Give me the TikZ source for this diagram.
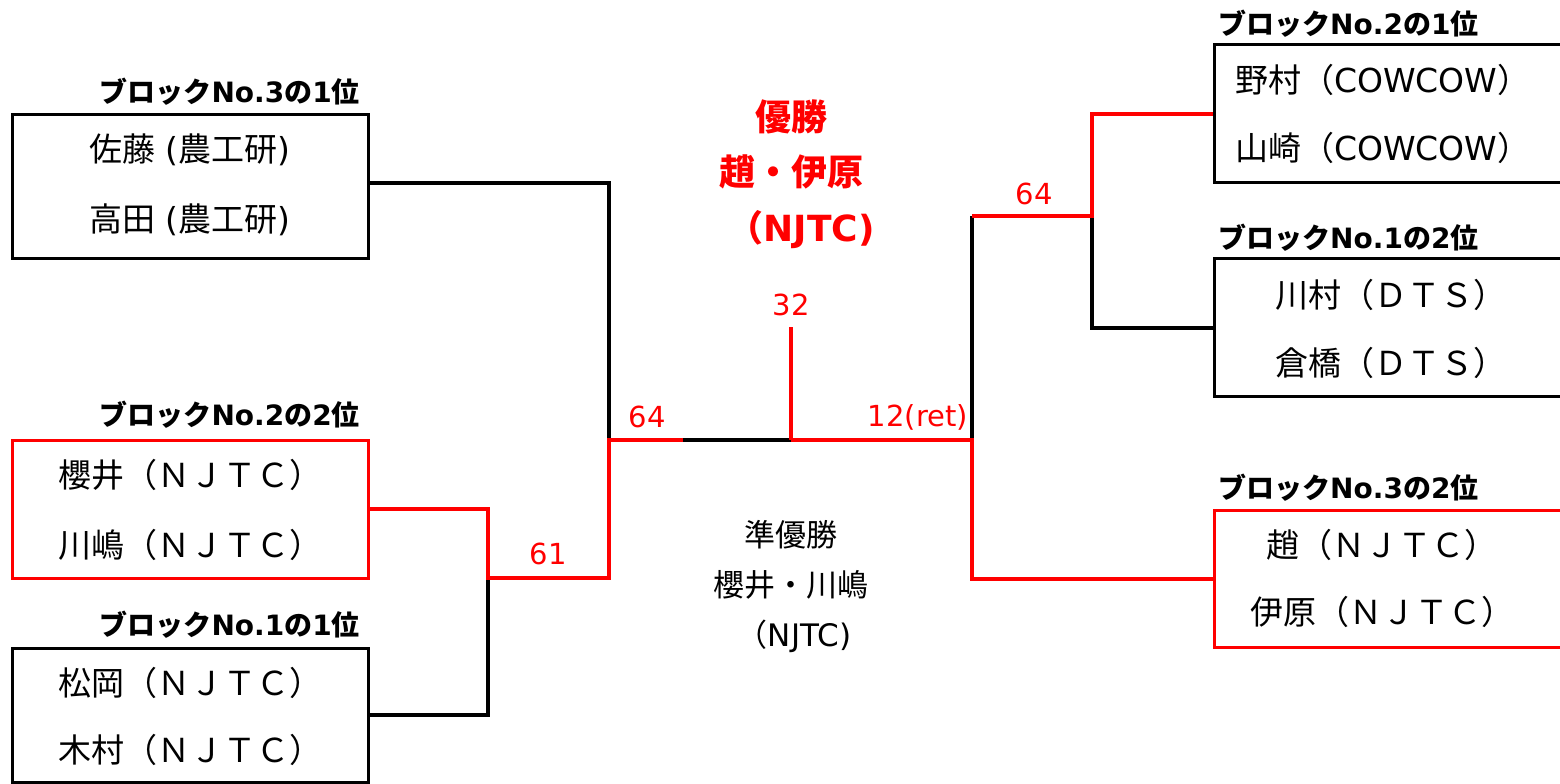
\documentclass[tikz,border=0pt]{standalone}
\usepackage{fontspec}
\setmainfont{Noto Sans CJK JP}
\newfontfamily\numfont{DejaVu Sans}
\newcommand\latn[1]{{\numfont #1}}
\definecolor{rd}{RGB}{255,0,0}
\begin{document}
\begin{tikzpicture}[x=1pt,y=-1pt,
  box/.style={draw=black, line width=3pt, minimum width=356pt, inner sep=0pt},
  rbox/.style={box, draw=rd},
  lab/.style={font=\fontsize{28}{30}\selectfont\bfseries, inner sep=0pt},
  nm/.style={font=\fontsize{33}{40}\selectfont, inner sep=0pt},
  score/.style={font=\numfont\fontsize{29}{34}\selectfont, text=rd, inner sep=0pt},
  win/.style={font=\fontsize{36}{40}\selectfont\bfseries, text=rd, inner sep=0pt},
  ru/.style={font=\fontsize{31}{36}\selectfont, inner sep=0pt},
  bl/.style={line width=4pt, draw=black},
  rl/.style={line width=4pt, draw=rd},
]
\useasboundingbox (0,0) rectangle (1560,784);
% boxes
\node[box, minimum height=144pt] (L1) at (190,186) {};
\node[rbox, minimum height=138pt] (L2) at (190,509) {};
\node[box, minimum height=134pt] (L3) at (190,715) {};
\node[box, minimum width=348pt, minimum height=137pt] (R1) at (1388,113.5) {};
\node[box, minimum width=348pt, minimum height=138pt] (R2) at (1388,327.5) {};
\node[rbox, minimum width=348pt, minimum height=137pt] (R3) at (1388,578.5) {};
% junctions
\coordinate (J1) at (609,440);
\coordinate (K1) at (488,578);
\coordinate (G) at (683,440);
\coordinate (C) at (791,440);
\coordinate (T) at (791,327);
\coordinate (J2) at (972,440);
\coordinate (M) at (972,216);
\coordinate (N) at (1092,216);
% black connectors
\draw[bl] ([yshift=3.5pt]L1.east) -| (J1);
\draw[bl] (L3.east) -| (K1);
\draw[bl] (G) -- (C);
\draw[bl] (J2) -- (M);
\draw[bl] (R2.west) -| (N);
% red connectors
\draw[rl] (L2.east) -| (K1) -| (J1) -- (G);
\draw[rl] (C) -- (T);
\draw[rl] (C) -- (J2) |- (R3.west);
\draw[rl] (M) -- (N) |- (R1.west);
% block labels
\node[lab, anchor=east] (bL1) at (360,92) {ブロック\latn{No.3}の\latn{1}位};
\node[lab, anchor=east] (bL2) at (360,415) {ブロック\latn{No.2}の\latn{2}位};
\node[lab, anchor=east] (bL3) at (360,625) {ブロック\latn{No.1}の\latn{1}位};
\node[lab, anchor=west] (bR1) at (1218,24) {ブロック\latn{No.2}の\latn{1}位};
\node[lab, anchor=west] (bR2) at (1218,238) {ブロック\latn{No.1}の\latn{2}位};
\node[lab, anchor=west] (bR3) at (1218,488) {ブロック\latn{No.3}の\latn{2}位};
% names
\node[nm] (n1a) at (190,150) {佐藤\latn{ (}農工研\latn{)}};
\node[nm] (n1b) at (190,220) {高田\latn{ (}農工研\latn{)}};
\node[nm] (n2a) at (190,475) {櫻井（ＮＪＴＣ）};
\node[nm] (n2b) at (190,545) {川嶋（ＮＪＴＣ）};
\node[nm] (n3a) at (190,683) {松岡（ＮＪＴＣ）};
\node[nm] (n3b) at (190,750) {木村（ＮＪＴＣ）};
\node[nm, anchor=west] (m1a) at (1235,80) {野村（\latn{COWCOW}）};
\node[nm, anchor=west] (m1b) at (1235,148) {山崎（\latn{COWCOW}）};
\node[nm] (m2a) at (1391,295) {川村（ＤＴＳ）};
\node[nm] (m2b) at (1391,363) {倉橋（ＤＴＳ）};
\node[nm] (m3a) at (1382,545) {趙（ＮＪＴＣ）};
\node[nm] (m3b) at (1382,612) {伊原（ＮＪＴＣ）};
% winner / runner-up
\node[win] (w1) at (791,117) {優勝};
\node[win] (w2) at (791,172) {趙・伊原};
\node[win] (w3) at (801,230) {（\latn{NJTC)}};
\node[ru] (r1) at (791,535) {準優勝};
\node[ru] (r2) at (791,585) {櫻井・川嶋};
\node[ru] (r3) at (794,636) {（\latn{NJTC)}};
% scores
\node[score] (s32) at (791,305) {32};
\node[score] (s64a) at (647,417) {64};
\node[score] (s12) at (918,417) {12(ret)};
\node[score] (s61) at (548,554) {61};
\node[score] (s64b) at (1034,194) {64};
\end{tikzpicture}
\end{document}
